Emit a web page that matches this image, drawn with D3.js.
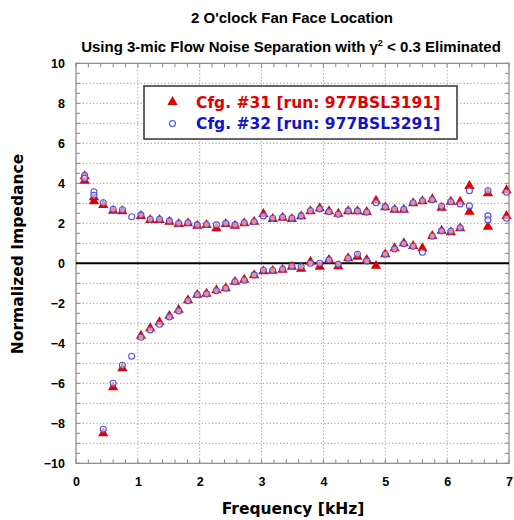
<!DOCTYPE html>
<html><head><meta charset="utf-8">
<script src="https://cdn.jsdelivr.net/npm/d3@7"></script>
<style>body{margin:0;background:#fff}svg{display:block}</style>
</head><body>
<script>
const freq = [0.14,0.29,0.44,0.60,0.75,0.90,1.05,1.20,1.35,1.51,1.66,1.81,1.96,2.11,2.27,2.42,2.57,2.72,2.88,3.03,3.18,3.34,3.49,3.64,3.79,3.94,4.09,4.24,4.40,4.55,4.70,4.85,5.00,5.15,5.30,5.45,5.60,5.76,5.91,6.06,6.21,6.36,6.66,6.96];
const cfg31Real = [4.13,3.10,2.92,2.63,2.60,null,2.37,2.17,2.17,2.08,1.97,2.00,1.88,1.92,1.75,1.97,1.88,2.00,2.08,2.47,2.22,2.28,2.22,2.35,2.60,2.75,2.60,2.48,2.60,2.60,2.57,3.13,2.80,2.68,2.68,3.00,3.10,3.20,2.78,3.08,3.08,3.87,3.50,3.65];
const cfg31Imag = [null,null,-8.50,-6.20,-5.25,null,-3.62,-3.25,-2.95,-2.63,-2.33,-1.85,-1.58,-1.52,-1.35,-1.25,-0.92,-0.82,-0.60,-0.40,-0.38,-0.32,-0.17,-0.27,0.08,-0.17,0.17,-0.15,0.25,0.33,0.17,-0.13,0.45,0.75,1.00,0.87,0.75,1.37,1.63,1.55,1.75,2.58,1.83,2.37];
const cfg32Real = [4.40,3.58,3.03,2.70,2.68,2.33,2.42,2.20,2.20,2.12,2.00,2.03,1.92,1.94,1.92,2.00,1.92,2.03,2.08,2.37,2.25,2.30,2.25,2.37,2.63,2.72,2.58,2.45,2.62,2.62,2.55,3.03,2.82,2.70,2.70,3.03,3.13,3.18,2.85,3.08,2.97,3.63,3.63,3.55];
const cfg32Imag = [null,null,-8.30,-6.00,-5.10,-4.65,-3.70,-3.33,-3.05,-2.68,-2.38,-1.87,-1.57,-1.53,-1.37,-1.25,-0.92,-0.85,-0.58,-0.35,-0.35,-0.30,-0.15,-0.17,0.00,0.00,0.17,-0.05,0.25,0.45,0.12,null,0.45,0.72,0.98,0.85,0.55,1.35,1.62,1.60,1.78,2.87,2.37,2.25];
// repeated readings seen at the same frequency
const cfg31Extra = [[0.14,4.35],[0.29,3.30]];
const cfg32Extra = [[0.14,4.25],[0.29,3.40],[6.66,2.17]];
const xTicks = [0,1,2,3,4,5,6,7];
const yTicks = [-10,-8,-6,-4,-2,0,2,4,6,8,10];
const legendLabels = ["Cfg. #31 [run: 977BSL3191]","Cfg. #32 [run: 977BSL3291]"];

const W=514,H=520;
const svg=d3.select("body").append("svg").attr("width",W).attr("height",H);
const x=d3.scaleLinear().domain([0,7]).range([76,509]);
const y=d3.scaleLinear().domain([-10,10]).range([463.3,63.3]);
const RED="#e00000", BLUE="#1414c8", CIRC="#5050e0";

// grid
const g=svg.append("g");
g.selectAll("line.hg").data(d3.range(-9,10).filter(v=>v!==0)).join("line")
 .attr("x1",x(0)).attr("x2",x(7)).attr("y1",d=>y(d)).attr("y2",d=>y(d))
 .attr("stroke","#999").attr("stroke-width",1).attr("stroke-dasharray","1.2,2.2");
g.selectAll("line.vg").data(d3.range(1,7)).join("line")
 .attr("y1",y(10)).attr("y2",y(-10)).attr("x1",d=>x(d)).attr("x2",d=>x(d))
 .attr("stroke","#999").attr("stroke-width",1).attr("stroke-dasharray","1.2,2.2");

// minor ticks
const xm=d3.range(0,7.001,0.2), ym=d3.range(-10,10.001,0.5);
const tk=svg.append("g").attr("stroke","#888").attr("stroke-width",1);
xm.forEach(v=>{
  tk.append("line").attr("x1",x(v)).attr("x2",x(v)).attr("y1",y(-10)).attr("y2",y(-10)-4);
  tk.append("line").attr("x1",x(v)).attr("x2",x(v)).attr("y1",y(10)).attr("y2",y(10)+4);
});
ym.forEach(v=>{
  tk.append("line").attr("x1",x(0)).attr("x2",x(0)+4).attr("y1",y(v)).attr("y2",y(v));
  tk.append("line").attr("x1",x(7)).attr("x2",x(7)-4).attr("y1",y(v)).attr("y2",y(v));
});

// frame
svg.append("rect").attr("x",x(0)).attr("y",y(10)).attr("width",x(7)-x(0)).attr("height",y(-10)-y(10))
 .attr("fill","none").attr("stroke","#888").attr("stroke-width",1.2);

// zero line
svg.append("line").attr("x1",x(0)).attr("x2",x(7)).attr("y1",y(0)).attr("y2",y(0))
 .attr("stroke","#000").attr("stroke-width",2);

// axes labels via d3 axis
const ax=svg.append("g").attr("transform",`translate(0,${y(-10)})`)
 .call(d3.axisBottom(x).tickValues(xTicks).tickSize(0).tickPadding(14).tickFormat(d3.format("d")));
ax.select(".domain").remove();
ax.selectAll("text").attr("font-family","Liberation Sans, Arial, sans-serif").attr("font-weight","bold").attr("font-size","12.5px").attr("fill","#000");
const ay=svg.append("g").attr("transform",`translate(${x(0)},0)`)
 .call(d3.axisLeft(y).tickValues(yTicks).tickSize(0).tickPadding(11).tickFormat(d3.format("d")));
ay.select(".domain").remove();
ay.selectAll("text").attr("font-family","Liberation Sans, Arial, sans-serif").attr("font-weight","bold").attr("font-size","12.5px").attr("fill","#000");

// data
function pts(vals){return freq.map((f,i)=>[f,vals[i]]).filter(d=>d[1]!==null);}
const redPts=pts(cfg31Real).concat(pts(cfg31Imag)).concat(cfg31Extra);
const bluePts=pts(cfg32Real).concat(pts(cfg32Imag)).concat(cfg32Extra);
const tri=d3.symbol().type(d3.symbolTriangle).size(46);
svg.append("g").selectAll("path").data(redPts).join("path")
 .attr("d",tri).attr("transform",d=>`translate(${x(d[0])},${y(d[1])})`).attr("fill",RED);
svg.append("g").selectAll("circle").data(bluePts).join("circle")
 .attr("cx",d=>x(d[0])).attr("cy",d=>y(d[1])).attr("r",3)
 .attr("fill","#fff").attr("fill-opacity",0.55).attr("stroke",CIRC).attr("stroke-width",1.1);

// legend
const lg=svg.append("g");
lg.append("rect").attr("x",144).attr("y",86).attr("width",313).attr("height",53)
 .attr("fill","#fff").attr("stroke","#333").attr("stroke-width",1.5);
lg.append("path").attr("d",tri).attr("transform","translate(172.5,102)").attr("fill",RED);
lg.append("circle").attr("cx",172.5).attr("cy",123.5).attr("r",3).attr("fill","#fff").attr("stroke",CIRC).attr("stroke-width",1.1);
lg.append("text").attr("x",196).attr("y",108).text(legendLabels[0]).attr("fill",RED)
 .attr("font-family","DejaVu Sans, Verdana, sans-serif").attr("font-weight","bold").attr("font-size","15.5px");
lg.append("text").attr("x",196).attr("y",129).text(legendLabels[1]).attr("fill",BLUE)
 .attr("font-family","DejaVu Sans, Verdana, sans-serif").attr("font-weight","bold").attr("font-size","15.5px");

// titles
const tf="Liberation Sans, Arial, Helvetica, sans-serif";
svg.append("text").attr("x",292).attr("y",23).attr("text-anchor","middle").attr("font-family",tf)
 .attr("font-weight","bold").attr("font-size","15px").text("2 O'clock Fan Face Location");
const t2=svg.append("text").attr("x",291).attr("y",52).attr("text-anchor","middle").attr("font-family",tf)
 .attr("font-weight","bold").attr("font-size","15px");
t2.append("tspan").text("Using 3-mic Flow Noise Separation with \u03b3");
t2.append("tspan").attr("dy",-6).attr("font-size","9px").text("2");
t2.append("tspan").attr("dy",6).text(" < 0.3 Eliminated");

svg.append("text").attr("x",293).attr("y",514).attr("text-anchor","middle")
 .attr("font-family","DejaVu Sans, Verdana, sans-serif").attr("font-weight","bold").attr("font-size","15.5px").text("Frequency [kHz]");
svg.append("text").attr("transform","translate(23,254) rotate(-90)").attr("text-anchor","middle")
 .attr("font-family","DejaVu Sans, Verdana, sans-serif").attr("font-weight","bold").attr("font-size","15.5px").text("Normalized Impedance");
</script>
</body></html>
